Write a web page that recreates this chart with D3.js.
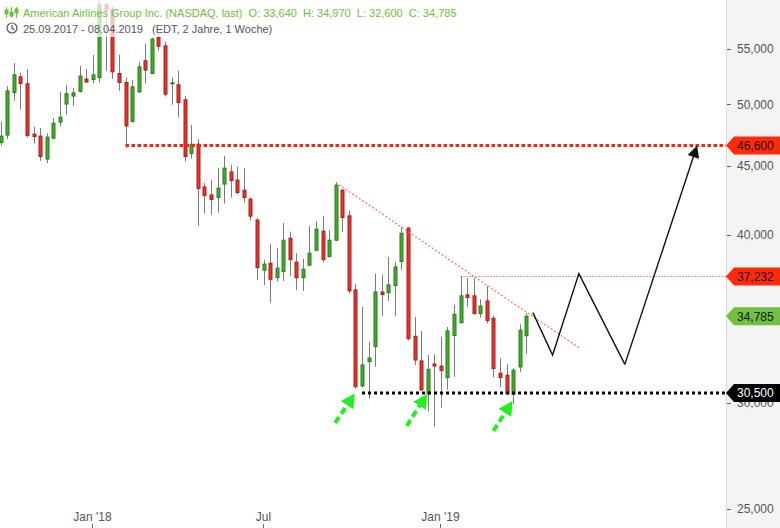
<!DOCTYPE html>
<html><head><meta charset="utf-8">
<script src="https://cdn.jsdelivr.net/npm/d3@7"></script>
<style>
body{margin:0;background:#fff}
svg{display:block;font-family:"Liberation Sans",Arial,sans-serif}
</style>
</head><body>
<svg id="chart" width="780" height="528"></svg>
<script>
// ---------- DATA (USD, weekly candles from 25.09.2017) ----------
const startDate = "2017-09-25";
const endDate = "2019-04-08";
const open = [46.84,47.44,51.03,52.42,51.80,47.52,47.36,45.53,47.19,48.51,
50.03,50.72,51.12,52.22,52.18,52.36,59.30,58.80,52.72,51.91,
48.56,51.09,53.88,52.72,56.08,55.28,51.80,51.71,50.40,45.96,
46.71,43.41,42.82,42.63,43.62,44.54,43.92,43.17,42.51,41.01,
37.64,38.09,37.16,37.55,39.76,38.16,37.16,37.96,38.95,40.24,
38.53,39.62,43.17,41.31,36.39,30.87,32.18,33.02,36.26,36.22,
36.66,38.20,40.45,33.61,32.22,30.45,32.05,31.94,31.31,33.65,
34.40,36.08,36.02,34.94,35.71,34.66,31.55,31.44,30.43,31.89,
33.640];
const high = [48.56,51.62,53.67,52.78,53.12,48.12,48.01,47.57,48.84,51.09,
51.68,51.44,53.42,53.12,54.41,59.80,59.60,59.20,54.44,52.36,
52.13,53.79,55.50,56.05,56.53,55.66,52.36,52.97,50.74,48.28,
47.11,43.71,43.94,44.85,45.78,45.08,44.93,44.85,42.63,41.17,
38.31,39.35,39.08,40.82,40.21,38.75,38.39,40.61,40.96,41.31,
40.33,43.74,43.24,41.67,36.76,35.34,33.29,37.42,37.34,38.50,
38.18,40.54,40.54,34.74,33.92,32.55,32.59,33.57,34.15,35.46,
37.23,37.13,37.13,35.81,36.64,34.80,32.37,32.04,31.82,34.31,
34.970];
const low = [46.58,47.11,50.31,49.54,47.24,46.76,45.39,45.21,47.11,48.14,
49.14,49.88,51.03,51.91,51.82,51.91,52.96,52.22,51.18,46.42,
48.47,51.00,51.82,52.65,54.81,50.68,49.97,48.89,45.34,45.57,
40.61,41.47,41.40,41.54,42.19,42.63,42.87,42.26,40.99,37.02,
36.70,35.60,36.91,36.95,37.27,36.39,36.33,37.92,38.90,38.13,
38.46,39.58,40.21,36.16,30.72,30.78,30.20,31.90,34.80,35.71,
34.80,37.66,33.38,32.00,30.60,29.54,28.79,29.74,30.67,31.36,
34.37,35.36,34.90,34.70,34.35,31.31,30.81,30.43,29.94,31.62,
32.600];
const close = [47.36,51.18,52.60,51.82,47.40,47.32,45.73,47.28,48.42,48.92,
50.92,51.00,52.49,51.95,52.60,59.30,58.80,52.87,51.91,48.20,
51.53,53.33,53.03,55.92,55.24,50.89,51.89,50.16,45.73,46.71,
43.29,42.77,42.48,43.32,44.83,43.89,42.99,42.63,41.29,37.81,
38.03,37.06,37.77,39.62,38.33,37.16,37.70,38.75,40.38,38.33,
39.62,43.54,41.19,36.33,30.83,32.00,32.38,36.26,36.10,36.70,
37.85,40.10,33.47,32.27,30.66,31.76,31.94,31.69,33.92,34.90,
36.02,35.91,34.94,35.40,34.52,31.80,31.31,30.46,31.71,33.96,
34.785];

const yTicks = [25, 30, 40, 45, 50, 55];
const xTickLabels = ["Jan '18", "Jul", "Jan '19"];
const xTickMonths = ["2018-01", "2018-07", "2019-01"];

const resistanceLevel = 46.600;   // red thick dotted
const midLevel = 37.232;          // thin red dotted
const lastLevel = 34.785;         // last close
const supportLevel = 30.500;      // black thick dotted
const resistanceStart = 19, midStart = 70, supportStart = 55;   // week index where lines start

const trendLine = [[51, 43.74], [88, 32.96]];                   // [week index, price]
const projection = [[81, 35.00], [84, 32.55], [88, 37.42], [95, 32.03], [106, 46.60]];
const greenArrows = [[[50.9, 28.97], [53.9, 30.47]], [[61.8, 28.82], [64.9, 30.45]], [[75.0, 28.58], [77.9, 30.08]]];

const title = "American Airlines Group Inc. (NASDAQ, last)";
const subtitle = "25.09.2017 - 08.04.2019   (EDT, 2 Jahre, 1 Woche)";

// ---------- SETUP ----------
const svg = d3.select("#chart");
const W = 780, H = 528, plotRight = 726;
const de = d3.formatLocale({decimal: ",", thousands: ".", grouping: [3], currency: ["", ""]});
const fmt = de.format(".3f");

const dates = d3.timeMonday.range(new Date(2017, 8, 25), new Date(2019, 3, 9));
const candles = dates.map((d, i) => ({date: d, i, o: open[i], h: high[i], l: low[i], c: close[i]}));

const x = d3.scaleLinear().domain([0, 80]).range([0.7, 526.3]);
const y = d3.scaleLog().domain([25, 55]).range([509, 48.8]);

svg.append("defs").append("clipPath").attr("id", "clip")
  .append("rect").attr("x", 0).attr("y", 0).attr("width", plotRight).attr("height", H);

const plot = svg.append("g").attr("clip-path", "url(#clip)");

// ---------- CANDLES ----------
const upFill = "#3fae29", upStroke = "#2a7d1b", dnFill = "#e8332c", dnStroke = "#a91f19";
const cg = plot.append("g").selectAll("g").data(candles).join("g");
cg.append("line")
  .attr("x1", d => Math.round(x(d.i)) + 0.5).attr("x2", d => Math.round(x(d.i)) + 0.5)
  .attr("y1", d => y(d.h)).attr("y2", d => y(d.l))
  .attr("stroke", "#7a7a7a").attr("stroke-width", 1);
cg.append("rect")
  .attr("x", d => Math.round(x(d.i)) - 1)
  .attr("width", 3)
  .attr("y", d => y(Math.max(d.o, d.c)))
  .attr("height", d => Math.max(1, y(Math.min(d.o, d.c)) - y(Math.max(d.o, d.c))))
  .attr("fill", d => d.c >= d.o ? upFill : dnFill)
  .attr("stroke", d => d.c >= d.o ? upStroke : dnStroke)
  .attr("stroke-width", 1);

// ---------- LEVEL LINES ----------
plot.append("line").attr("x1", x(resistanceStart)).attr("x2", plotRight)
  .attr("y1", y(resistanceLevel)).attr("y2", y(resistanceLevel))
  .attr("stroke", "#ff2200").attr("stroke-width", 3).attr("stroke-dasharray", "3.5,2.5");
plot.append("line").attr("x1", x(midStart)).attr("x2", plotRight)
  .attr("y1", y(midLevel)).attr("y2", y(midLevel))
  .attr("stroke", "#e8241c").attr("stroke-width", 1).attr("stroke-dasharray", "1,2");
plot.append("line").attr("x1", x(supportStart)).attr("x2", plotRight)
  .attr("y1", y(supportLevel)).attr("y2", y(supportLevel))
  .attr("stroke", "#000").attr("stroke-width", 3).attr("stroke-dasharray", "3,3");

// trend line
plot.append("line")
  .attr("x1", x(trendLine[0][0])).attr("y1", y(trendLine[0][1]))
  .attr("x2", x(trendLine[1][0])).attr("y2", y(trendLine[1][1]))
  .attr("stroke", "#ff5a5a").attr("stroke-width", 1.2).attr("stroke-dasharray", "2,2").attr("opacity", 0.9);

// arrow helper
function arrow(g, p0, p1, color, width, dash, headLen, headHalf) {
  const dx = p1[0] - p0[0], dy = p1[1] - p0[1], L = Math.hypot(dx, dy);
  const ux = dx / L, uy = dy / L;
  const bx = p1[0] - ux * headLen, by = p1[1] - uy * headLen;
  g.append("line").attr("x1", p0[0]).attr("y1", p0[1]).attr("x2", bx + ux).attr("y2", by + uy)
    .attr("stroke", color).attr("stroke-width", width).attr("stroke-dasharray", dash);
  g.append("path").attr("d", `M${p1[0]},${p1[1]}L${bx - uy * headHalf},${by + ux * headHalf}L${bx + uy * headHalf},${by - ux * headHalf}Z`)
    .attr("fill", color);
}

// projection zigzag
const pts = projection.map(p => [x(p[0]), y(p[1])]);
const last = pts[pts.length - 1], prev = pts[pts.length - 2];
const zz = plot.append("g");
zz.append("path").attr("d", d3.line()(pts.slice(0, -1)))
  .attr("fill", "none").attr("stroke", "#111").attr("stroke-width", 1.4);
arrow(zz, prev, last, "#111", 1.4, null, 12, 6);

// green arrows
const ga = plot.append("g");
greenArrows.forEach(a => arrow(ga, [x(a[0][0]), y(a[0][1])], [x(a[1][0]), y(a[1][1])], "#1ff01f", 4, "7,4", 14, 7.5));

// ---------- HEADER ----------
svg.append("rect").attr("x", 0).attr("y", 0).attr("width", 430).attr("height", 37)
  .attr("fill", "#fff").attr("opacity", 0.72);
const green = "#6cbf3a";
const icon = svg.append("g").attr("stroke", green).attr("fill", "none").attr("stroke-width", 1);
[6.5, 11.5, 16.5].forEach((cx, k) => {
  icon.append("line").attr("x1", cx).attr("x2", cx).attr("y1", 7).attr("y2", 18);
  icon.append("rect").attr("x", cx - 1.5).attr("width", 3).attr("y", [10, 12, 9][k]).attr("height", 4).attr("fill", green);
});
svg.append("text").attr("x", 23).attr("y", 17).attr("font-size", 11).attr("fill", green)
  .style("white-space", "pre")
  .text(`${title}  O: ${fmt(open[80])}  H: ${fmt(high[80])}  L: ${fmt(low[80])}  C: ${fmt(close[80])}`);
const clk = svg.append("g").attr("stroke", "#555").attr("fill", "none").attr("stroke-width", 1.2);
clk.append("circle").attr("cx", 12).attr("cy", 28).attr("r", 5);
clk.append("path").attr("d", "M12,25V28.3L14.3,30");
svg.append("text").attr("x", 23).attr("y", 33).attr("font-size", 11).attr("fill", "#555")
  .style("white-space", "pre").text(subtitle);

// ---------- RIGHT AXIS PANEL ----------
svg.append("rect").attr("x", plotRight).attr("y", 0).attr("width", W - plotRight).attr("height", H).attr("fill", "#f4f4f4");
svg.append("line").attr("x1", plotRight + 0.5).attr("x2", plotRight + 0.5).attr("y1", 0).attr("y2", H)
  .attr("stroke", "#d9d9d9");
const ya = svg.append("g");
yTicks.forEach(t => {
  ya.append("line").attr("x1", plotRight + 1).attr("x2", plotRight + 5).attr("y1", Math.round(y(t)) + 0.5).attr("y2", Math.round(y(t)) + 0.5)
    .attr("stroke", "#666");
  ya.append("text").attr("x", 737).attr("y", y(t)).attr("dy", "0.36em").attr("font-size", 12).attr("fill", "#555").text(fmt(t));
});

function tag(v, fill, color) {
  const cy = y(v);
  svg.append("path").attr("d", `M${plotRight},${cy}L${plotRight + 8},${cy - 9}H${W}V${cy + 9}H${plotRight + 8}Z`).attr("fill", fill);
  svg.append("text").attr("x", 737).attr("y", cy).attr("dy", "0.36em").attr("font-size", 12).attr("fill", color).text(fmt(v));
}
tag(resistanceLevel, "#ff2a0a", "#111");
tag(midLevel, "#ff2a0a", "#111");
tag(lastLevel, "#6ec23f", "#111");
tag(supportLevel, "#000", "#fff");

// ---------- X AXIS ----------
const xa = svg.append("g");
xTickMonths.forEach((m, k) => {
  const idx = candles.findIndex(c => d3.timeFormat("%Y-%m")(c.date) === m);
  const px = Math.round(x(idx)) - 0.5;
  xa.append("line").attr("x1", px).attr("x2", px).attr("y1", 524).attr("y2", 528).attr("stroke", "#666");
  xa.append("text").attr("x", px).attr("y", 521).attr("text-anchor", "middle").attr("font-size", 12).attr("fill", "#555").text(xTickLabels[k]);
});
</script>
</body></html>
